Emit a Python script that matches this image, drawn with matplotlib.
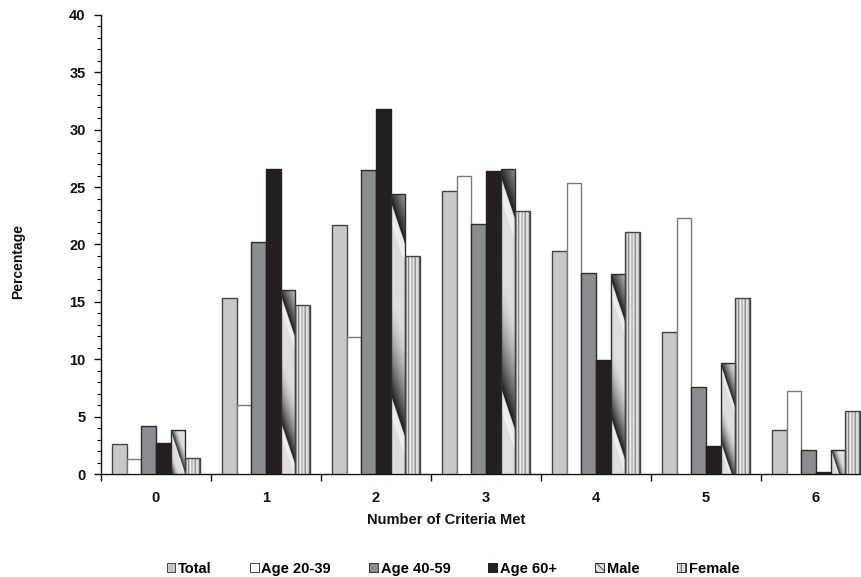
import numpy as np
import matplotlib
matplotlib.use("Agg")
import matplotlib.pyplot as plt
from matplotlib.patches import Patch
from matplotlib.ticker import MultipleLocator, FixedLocator

plt.rcParams['font.family'] = ['Liberation Sans', 'DejaVu Sans']
plt.rcParams['font.weight'] = 'bold'
plt.rcParams['hatch.linewidth'] = 0.6

# Data
categories = ['0', '1', '2', '3', '4', '5', '6']
series_names = ['Total', 'Age 20-39', 'Age 40-59', 'Age 60+', 'Male', 'Female']
total = [2.6, 15.3, 21.7, 24.7, 19.4, 12.4, 3.8]
age_20_39 = [1.3, 6.0, 11.9, 26.0, 25.4, 22.3, 7.2]
age_40_59 = [4.2, 20.2, 26.5, 21.8, 17.5, 7.6, 2.1]
age_60_plus = [2.7, 26.6, 31.8, 26.4, 9.9, 2.4, 0.2]
male = [3.8, 16.0, 24.4, 26.6, 17.4, 9.7, 2.1]
female = [1.4, 14.7, 19.0, 22.9, 21.1, 15.3, 5.5]
series = [total, age_20_39, age_40_59, age_60_plus, male, female]

W, H = 862, 577
fig = plt.figure(figsize=(W / 100, H / 100), dpi=100)
ax_left, ax_bottom, ax_top, ax_right = 101, 474, 15, 871
ax = fig.add_axes([ax_left / W, 1 - ax_bottom / H,
                   (ax_right - ax_left) / W, (ax_bottom - ax_top) / H])
ax.set_xlim(-0.5, 6.5)
ax.set_ylim(0, 40)

px_x = (ax_right - ax_left) / 7.0   # pixels per category
px_y = (ax_bottom - ax_top) / 40.0  # pixels per percent

bar_w = 0.132
x = np.arange(len(categories))

fills = ['#c7c8ca', '#ffffff', '#8b8c8f', '#231f20', 'none', 'none']
edges = ['#444444', '#7a7a7a', '#2e2e2e', '#231f20', '#2e2e2e', '#444444']


def male_texture(h_val):
    """Diagonal saw-tooth gradient fill for one bar."""
    hp = max(h_val * px_y, 1.0)
    wp = bar_w * px_x
    ny = max(int(hp * 3), 4)
    nx = 45
    u = np.linspace(0, wp, nx)[None, :]
    v = np.linspace(0, hp, ny)[:, None]          # from top downward
    period = max(0.69 * hp, 40.0)
    s = ((v - 3.0 * u - 0.03 * hp) / period) % 1.0
    ramp = np.clip((s - 0.45) / 0.55, 0, 1) ** 1.6
    g = 0.87 - 0.77 * ramp
    g = np.where(s < 0.10, 0.95 - (0.10 - s) * 0.4, g)
    return g


female_cols = np.array([0.38, 0.80, 0.86, 0.45, 0.95, 0.93, 0.62, 0.88,
                        0.90, 0.45, 0.86, 0.88, 0.80, 0.40])

for i, (vals, fc, ec) in enumerate(zip(series, fills, edges)):
    xs = x + (i - 2.5) * bar_w
    if i < 4:
        ax.bar(xs, vals, bar_w, facecolor=fc, edgecolor=ec, linewidth=1.0,
               zorder=3)
        continue
    bars = ax.bar(xs, vals, bar_w, facecolor='none', edgecolor=ec,
                  linewidth=1.0, zorder=4)
    for xc, v, b in zip(xs, vals, bars):
        if i == 4:
            img = male_texture(v)
        else:
            img = np.tile(female_cols, (2, 1))
        im = ax.imshow(img, cmap='gray', vmin=0, vmax=1, aspect='auto',
                       interpolation='bilinear', origin='upper',
                       extent=[xc - bar_w / 2, xc + bar_w / 2, 0, v],
                       zorder=3)
        im.set_clip_path(b)

ax.set_xlim(-0.5, 6.5)
ax.set_ylim(0, 40)
ax.set_aspect('auto')

# Axes styling
for side in ('top', 'right'):
    ax.spines[side].set_visible(False)
for side in ('left', 'bottom'):
    ax.spines[side].set_linewidth(1.0)
    ax.spines[side].set_color('#111111')

ax.yaxis.set_major_locator(MultipleLocator(5))
ax.yaxis.set_minor_locator(MultipleLocator(1))
ax.tick_params(axis='y', which='major', direction='out', length=5, width=1,
               pad=6, labelsize=10.5, colors='#111111')
ax.tick_params(axis='y', which='minor', direction='out', length=3, width=0.8,
               colors='#111111')

ax.set_xticks(x)
ax.set_xticklabels(categories)
ax.xaxis.set_minor_locator(FixedLocator(np.arange(-0.5, 7.0, 1.0)))
ax.tick_params(axis='x', which='major', length=0, pad=12, labelsize=10.5,
               colors='#111111')
ax.tick_params(axis='x', which='minor', direction='out', length=5, width=1,
               colors='#111111')
for lab in ax.get_xticklabels() + ax.get_yticklabels():
    lab.set_fontweight('bold')

fig.text(446 / W, 1 - 520 / H, 'Number of Criteria Met', ha='center',
         va='center', fontsize=10.5, fontweight='bold', color='#111111')
fig.text(18 / W, 1 - 262 / H, 'Percentage', ha='center', va='center',
         rotation=90, fontsize=10, fontweight='bold', color='#111111')

handles = [
    Patch(facecolor=fills[0], edgecolor='#444444', linewidth=0.7),
    Patch(facecolor='white', edgecolor='#444444', linewidth=0.7),
    Patch(facecolor=fills[2], edgecolor='#333333', linewidth=0.7),
    Patch(facecolor=fills[3], edgecolor='#231f20', linewidth=0.7),
    Patch(facecolor='#dddddd', edgecolor='#333333', linewidth=0.7,
          hatch='\\\\\\\\'),
    Patch(facecolor='#dddddd', edgecolor='#333333', linewidth=0.7,
          hatch='||||'),
]
fig.legend(handles, series_names, loc='center',
           bbox_to_anchor=(453 / W, 1 - 569 / H), ncol=6, frameon=False,
           handlelength=0.6, handleheight=0.6, handletextpad=0.2,
           columnspacing=2.6, prop={'weight': 'bold', 'size': 10.5})

fig.savefig('out.png', dpi=100)
